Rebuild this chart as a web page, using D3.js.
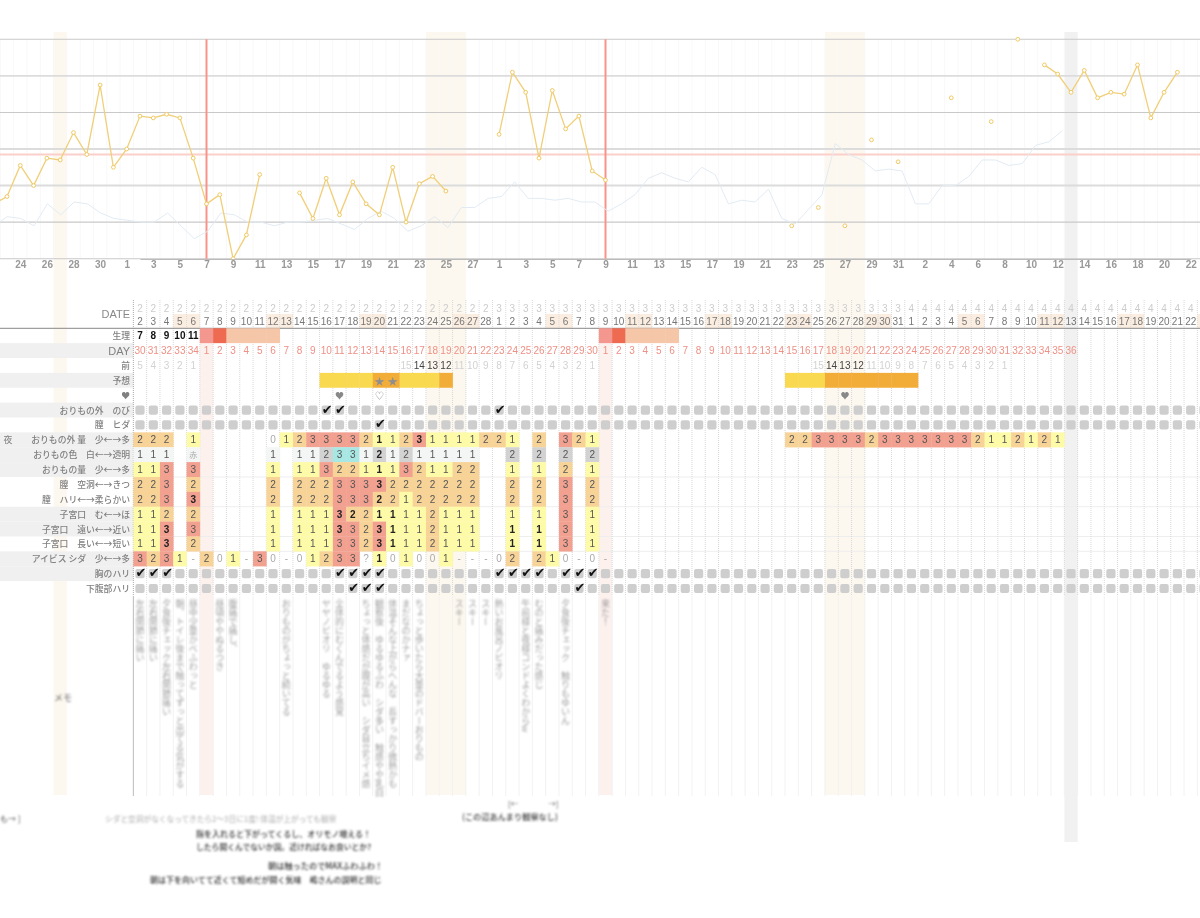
<!DOCTYPE html>
<html>
<head>
<meta charset="utf-8">
<script src="https://cdn.jsdelivr.net/npm/d3@7"></script>
<style>
  body { margin: 0; background: #fff; }
  svg { display: block; filter: blur(0.3px); }
  text { font-family: "Liberation Sans", sans-serif; }
  .jp { font-family: "Noto Sans CJK JP", sans-serif; }
</style>
</head>
<body>
<svg id="chart" width="1200" height="918"></svg>
<script>
// day labels, 1/22 to 4/23
const chartMonths = [...'1111111111', ...'2222222222222222222222222222', ...'3333333333333333333333333333333', ...'44444444444444444444444'];
const chartDays = [22,23,24,25,26,27,28,29,30,31,
  1,2,3,4,5,6,7,8,9,10,11,12,13,14,15,16,17,18,19,20,21,22,23,24,25,26,27,28,
  1,2,3,4,5,6,7,8,9,10,11,12,13,14,15,16,17,18,19,20,21,22,23,24,25,26,27,28,29,30,31,
  1,2,3,4,5,6,7,8,9,10,11,12,13,14,15,16,17,18,19,20,21,22,23];
const firstIdx = -11;   // chartDays[0] sits 11 columns left of column 0, which is 2/2

// body temperature from 1/22, null = not measured
const temps = [36.10,36.14,36.31,36.20,36.35,36.34,36.49,36.37,36.75,36.30,36.40,
  36.58,36.57,36.59,36.57,36.35,36.10,36.15,35.80,35.93,36.26,null,null,
  36.16,36.02,36.24,36.04,36.22,36.10,36.04,36.30,36.00,36.21,36.25,36.17,null,null,null,
  36.48,36.82,36.71,36.35,36.72,36.51,36.58,36.28,36.23,
  null,null,null,null,null,null,null,null,null,null,null,null,null,
  35.98,null,36.08,null,35.98,null,36.45,null,36.33,null,null,null,36.68,null,null,36.55,null,37.00,null,
  36.86,36.81,36.71,36.83,36.68,36.71,36.70,36.86,36.57,36.71,36.82,null,null];

// pale comparison line, from 1/22 to 4/12
const refTemps = [35.98,36.03,36.02,35.98,36.10,36.04,36.11,36.10,36.05,36.02,36.01,
  36.00,36.00,36.05,35.98,35.91,35.95,36.05,36.04,36.00,36.00,35.98,36.00,36.00,36.01,36.02,35.99,35.96,36.02,36.06,36.02,35.95,
  35.98,36.03,35.97,36.08,36.08,36.13,36.14,36.22,36.13,36.13,36.12,36.13,36.11,36.11,36.06,36.10,36.15,36.24,36.27,36.24,36.22,36.30,36.26,36.10,36.12,36.11,36.18,36.02,35.99,
  36.07,36.15,36.43,36.37,36.34,36.28,36.29,36.28,36.10,36.10,36.20,36.20,36.25,36.34,36.34,36.31,36.32,36.42,36.44,36.50];

const tempGrid = [35.8,36.0,36.2,36.4,36.6,36.8,37.0];
const wideGrid = [36.2,36.4,36.8];
const coverLine = 36.37;

// table columns start at 2/2
const periodDays = [5,35];
const fertileDays = [[-6,-6],[22,24],[52,54]];
const todayCol = 70;
const weekendCols = [3,4,10,11,17,18,24,25,31,32,37,38,43,44,49,50,55,56,62,63,68,69,74,75,80];

const cycleCount = [7,8,9,10,11];
const flowCols = [[5,2],[6,3],[7,1],[8,1],[9,1],[10,1],[35,2],[36,3],[37,1],[38,1],[39,1],[40,1]];
const dayCounts = [30,31,32,33,34].concat(
  [1,2,3,4,5,6,7,8,9,10,11,12,13,14,15,16,17,18,19,20,21,22,23,24,25,26,27,28,29,30],
  [1,2,3,4,5,6,7,8,9,10,11,12,13,14,15,16,17,18,19,20,21,22,23,24,25,26,27,28,29,30,31,32,33,34,35,36]);
const beforeCounts = [[0,[5,4,3,2,1]],[20,[15,14,13,12,11,10,9,8,7,6,5,4,3,2,1]],[51,[15,14,13,12,11,10,9,8,7,6,5,4,3,2,1]]];
const beforeDark = [21,22,23,52,53,54];
const forecastLow = [14,15,16,17,20,21,22,49,50,51];
const forecastHigh = [18,19,23,52,53,54,55,56,57,58];
const starCols = [18,19];
const heartFull = [15,53];
const heartOpen = [18];

const rowLabels = ["生理","DAY","前","予想","♥","おりもの外　のび","膣　ヒダ","おりもの外 量　少←→多","おりもの色　白←→透明",
  "おりもの量　少←→多","膣　空洞←→きつ","膣　ハリ←→柔らかい","子宮口　む←→ほ","子宮口　遠い←→近い","子宮口　長い←→短い",
  "アイビス シダ　少←→多","胸のハリ","下腹部ハリ"];
const greyRows = [1,3,5,7,8,9,12,13,15,16];
const ruleRows = [10,12,14,15];

// one character per column, space = no entry
const nightAmount = "222 1     0123333211231111221 2 321              223333233333332112121";
const colorLevel  = "111 赤     1 11233121211111  2 2 2 2";
const amountLevel = "113 3     1 11322111321122  1 1 2 1";
const hollowLevel = "223 2     2 22233332222222  2 2 3 2";
const firmLevel   = "223 3     2 22233322122222  2 2 3 2";
const openLevel   = "112 2     1 11132211112111  1 1 3 1";
const nearLevel   = "113 3     1 11133231112111  1 1 3 1";
const shortLevel  = "113 2     1 11133231112111  1 1 3 1";
const ibisLevel   = "3231-201-30-01233?101001---02 210-0-";
const levelRows = [[7,nightAmount,[18,21]],[8,colorLevel,[18]],[9,amountLevel,[18]],[10,hollowLevel,[18]],[11,firmLevel,[4,18]],
  [12,openLevel,[15,16,18,19]],[13,nearLevel,[2,15,18,19,28,30]],[14,shortLevel,[2,18,19,28,30]],[15,ibisLevel,[18]]];

const stretchChecks = [14,15,27];
const labiaChecks = [18];
const breastChecks = [0,1,2,15,16,17,18,27,28,29,30,32,33,34];
const bellyChecks = [16,17,18,33];
const checkRows = [[5,stretchChecks],[6,labiaChecks],[16,breastChecks],[17,bellyChecks]];

const memos = [[0,"左右関節に痛い"],[1,"左右関節に痛い"],[2,"夕食後チェック左右関節痛い"],[3,"朝、トイレ後まで触ってずっと出てる気がする"],
  [4,"昼中少量かべふわっと"],[6,"昼頃ややぬるつき"],[7,"腹痛で痛し、"],[11,"おりものがちょっと続いてる"],[14,"ヤヤノビオリ　ゆるゆる"],
  [15,"全体的にむくんでるよう感覚"],[17,"ちょっと体感だが膣が高い　シダ目立ちイメ感"],[18,"観察後　ゆるゆるふわ　シダ多い　触感やや乳白"],
  [19,"体温そんな上がらへんな　長すっかり微熱かも"],[20,"まだなのかナァ"],[21,"ちょっと歩いたら大量のドバーおりもの"],
  [24,"スキー"],[25,"スキー"],[26,"スキー"],[27,"熱いお風呂ノビオリ"],[29,"午前様と夜様コンドよくわからw"],[30,"むのと痛みだった感じ"],
  [32,"夕食後チェック　触りもゆいん"],[35,"来た！"]];

const notes = [
  ["も→ ]", 0, 822, "#777", 8],
  ["シダと空洞がなくなってきたら2〜3日に1度! 体温が上がっても観察", 105, 822, "#bbb", 7.7],
  ["指を入れると下がってくるし、オリモノ増える！", 196, 837, "#333", 8],
  ["したら開くんでないか説。近ければなお良いとか?", 196, 850, "#333", 7.8],
  ["朝は触ったのでMAXふわふわ！", 268, 869, "#333", 8.2],
  ["朝は下を向いてて近くて短めだが開く気味　嶋さんの説明と同じ", 150, 883, "#333", 8],
  ["[←　　　　→]", 508, 807, "#777", 7.5],
  ["(この辺あんまり観察なし)", 462, 820, "#444", 8.2],
  ["メモ", 54, 701, "#888", 9]
];

// ---- scales
const svg = d3.select("#chart");
const colW = 13.3;
const x = d3.scaleLinear().domain([0, 79]).range([140, 1190.7]);
const xRef = d3.scaleLinear().domain([-10, 69]).range([7.3, 1062.3]);
const y = d3.scaleLinear().domain([35.8, 37.0]).range([258.7, 39.3]);
const rowY = d3.scaleLinear().domain([0, 17]).range([335.7, 588.5]);
const rowH = 14.87;
const allCols = d3.range(0, 81);
const labelCols = d3.range(0, 80);
const flowColor = {1: "#f5c6a8", 2: "#f4978e", 3: "#ee6a50"};
const levelColor = {"1": "#fefba8", "2": "#f7d397", "3": "#f2a090"};
const tintColor = {"1": "#f4f6f6", "2": "#d2d2d2", "3": "#a8e8e4", "赤": "#f4f6f6"};
const idxOf = i => i + firstIdx;

// ---- bands behind everything
const band = (from, to, y0, y1, fill) => svg.append("rect")
  .attr("x", x(from) - colW / 2).attr("width", (to - from + 1) * colW)
  .attr("y", y0).attr("height", y1 - y0).attr("fill", fill);

fertileDays.forEach(d => band(d[0], d[1], 32, 795, "#fdf8ef"));
band(todayCol, todayCol, 32, 842, "#f1f1f1");
periodDays.forEach(d => band(d, d, 328, 795, "#fdf1ee"));

// ---- temperature chart
svg.append("g").selectAll("line")
  .data(d3.range(-10, 81))
  .join("line")
  .attr("x1", d => x(d) - colW / 2).attr("x2", d => x(d) - colW / 2)
  .attr("y1", 39).attr("y2", 259)
  .attr("stroke", "#f8f8f8").attr("stroke-width", 1);

svg.append("g").selectAll("line")
  .data(tempGrid)
  .join("line")
  .attr("x1", 0).attr("x2", 1200)
  .attr("y1", d => y(d)).attr("y2", d => y(d))
  .attr("stroke", d => wideGrid.includes(d) ? "#dcdcdc" : "#c9c9c9")
  .attr("stroke-width", d => wideGrid.includes(d) ? 1.9 : 1.1);

svg.append("line")
  .attr("x1", 0).attr("x2", 1200)
  .attr("y1", y(coverLine)).attr("y2", y(coverLine))
  .attr("stroke", "#fbcfca").attr("stroke-width", 1.8);

periodDays.forEach(d => svg.append("line")
  .attr("x1", x(d)).attr("x2", x(d)).attr("y1", 39.3).attr("y2", 258.7)
  .attr("stroke", "#f8938a").attr("stroke-width", 2));

svg.append("path")
  .attr("fill", "none").attr("stroke", "#e2ebf3").attr("stroke-width", 1)
  .attr("d", d3.line().x((d, i) => xRef(idxOf(i))).y(d => y(d))(refTemps));

svg.append("path")
  .attr("fill", "none").attr("stroke", "#f0cf78").attr("stroke-width", 1.3)
  .attr("d", d3.line().defined(d => d != null).x((d, i) => x(idxOf(i))).y(d => y(d))(temps));

svg.append("g").selectAll("circle")
  .data(temps.map((t, i) => [i, t]).filter(d => d[1] != null))
  .join("circle")
  .attr("cx", d => x(idxOf(d[0]))).attr("cy", d => y(d[1])).attr("r", 1.9)
  .attr("fill", "#fff").attr("stroke", "#efc964").attr("stroke-width", 1);

const axis = svg.append("g")
  .attr("transform", "translate(0,259)")
  .call(d3.axisBottom(x)
    .tickValues(d3.range(-9, 80, 2))
    .tickSize(0).tickPadding(2)
    .tickFormat(d => chartDays[d - firstIdx]));
axis.select(".domain").attr("stroke", "#bbb").attr("stroke-width", 1);
axis.selectAll("text").attr("fill", "#999").attr("font-size", 10).attr("font-weight", "bold")
  .style("font-family", '"Liberation Sans", sans-serif');

// ---- table backgrounds
svg.append("g").selectAll("rect")
  .data(greyRows)
  .join("rect")
  .attr("x", 0).attr("width", 133.5)
  .attr("y", d => rowY(d) - rowH / 2).attr("height", rowH)
  .attr("fill", "#f0f0f0");

svg.append("g").selectAll("line")
  .data(ruleRows)
  .join("line")
  .attr("x1", 133).attr("x2", 1200)
  .attr("y1", d => rowY(d) - rowH / 2).attr("y2", d => rowY(d) - rowH / 2)
  .attr("stroke", "#eee").attr("stroke-width", 1);

// header
svg.append("g").selectAll("rect")
  .data(weekendCols)
  .join("rect")
  .attr("x", d => x(d) - colW / 2).attr("width", colW)
  .attr("y", 314).attr("height", 14)
  .attr("fill", "#fbeee0");

// dotted column lines, solid and fainter under the table
const colLines = svg.append("g");
colLines.selectAll("line.dot").data(allCols).join("line").attr("class", "dot")
  .attr("x1", d => x(d) - colW / 2).attr("x2", d => x(d) - colW / 2)
  .attr("y1", 300).attr("y2", 596)
  .attr("stroke", d => d == 0 ? "#aaa" : "#d8d8d8").attr("stroke-width", 1).attr("stroke-dasharray", "1,1");
colLines.selectAll("line.memo").data(allCols).join("line").attr("class", "memo")
  .attr("x1", d => x(d) - colW / 2).attr("x2", d => x(d) - colW / 2)
  .attr("y1", 596).attr("y2", 796)
  .attr("stroke", d => d == 0 ? "#bbb" : "#f2f2f2").attr("stroke-width", 1);

svg.append("line")
  .attr("x1", 0).attr("x2", 1200).attr("y1", 328.3).attr("y2", 328.3)
  .attr("stroke", "#888").attr("stroke-width", 1);

const tableDays = chartDays.slice(-firstIdx);
const tableMonths = chartMonths.slice(-firstIdx);
const numText = (sel, size) => sel.attr("text-anchor", "middle").attr("dominant-baseline", "central").attr("font-size", size);

svg.append("g").selectAll("text").data(labelCols).join("text")
  .attr("x", d => x(d)).attr("y", 308)
  .call(numText, 10).attr("fill", "#ccc")
  .text(d => tableMonths[d]);
svg.append("g").selectAll("text").data(labelCols).join("text")
  .attr("x", d => x(d)).attr("y", 321)
  .call(numText, 10).attr("fill", "#777")
  .text(d => tableDays[d]);

svg.append("text").attr("x", 130).attr("y", 314).attr("text-anchor", "end")
  .attr("dominant-baseline", "central").attr("font-size", 11).attr("fill", "#888").text("DATE");

// row labels
svg.append("g").selectAll("text").data(rowLabels).join("text")
  .attr("class", d => d == "DAY" ? null : "jp")
  .attr("x", 130).attr("y", (d, i) => rowY(i))
  .attr("text-anchor", "end").attr("dominant-baseline", "central")
  .attr("font-size", (d, i) => i == 1 ? 11 : 8.8).attr("font-weight", 500).attr("fill", "#808080")
  .text(d => d);
svg.append("text").attr("class", "jp").attr("x", 8).attr("y", rowY(7)).attr("text-anchor", "middle")
  .attr("dominant-baseline", "central").attr("font-size", 8.8).attr("fill", "#808080").text("夜");

// cycle row
svg.append("g").selectAll("rect").data(flowCols).join("rect")
  .attr("x", d => x(d[0]) - colW / 2).attr("width", colW + 0.3)
  .attr("y", rowY(0) - rowH / 2).attr("height", rowH)
  .attr("fill", d => flowColor[d[1]]);
svg.append("g").selectAll("text").data(cycleCount).join("text")
  .attr("x", (d, i) => x(i)).attr("y", rowY(0))
  .call(numText, 10).attr("font-weight", "bold").attr("fill", "#111")
  .text(d => d);

// DAY row
svg.append("g").selectAll("text").data(dayCounts).join("text")
  .attr("x", (d, i) => x(i)).attr("y", rowY(1))
  .call(numText, 10).attr("fill", "#ee9085")
  .text(d => d);

// days before
beforeCounts.forEach(run => {
  svg.append("g").selectAll("text").data(run[1]).join("text")
    .attr("x", (d, i) => x(run[0] + i)).attr("y", rowY(2))
    .call(numText, 10)
    .attr("fill", (d, i) => beforeDark.includes(run[0] + i) ? "#444" : "#d2d2d2")
    .text(d => d);
});

// forecast
svg.append("g").selectAll("rect").data(forecastLow).join("rect")
  .attr("x", d => x(d) - colW / 2).attr("width", colW + 0.3)
  .attr("y", rowY(3) - rowH / 2).attr("height", rowH).attr("fill", "#f9d94f");
svg.append("g").selectAll("rect").data(forecastHigh).join("rect")
  .attr("x", d => x(d) - colW / 2).attr("width", colW + 0.3)
  .attr("y", rowY(3) - rowH / 2).attr("height", rowH).attr("fill", "#f2ad38");
svg.append("g").selectAll("text").data(starCols).join("text")
  .attr("class", "jp").attr("x", d => x(d)).attr("y", rowY(3))
  .call(numText, 10).attr("fill", "#8e8e8e").text("★");

// hearts
svg.append("g").selectAll("text").data(heartFull.map(d => [d, "♥"]).concat(heartOpen.map(d => [d, "♡"]))).join("text")
  .attr("class", "jp").attr("x", d => x(d[0])).attr("y", rowY(4))
  .call(numText, 9).attr("fill", "#888").text(d => d[1]);

// level cells
levelRows.forEach(r => {
  const cells = Array.from(r[1]).map((v, i) => [i, v]).filter(d => d[1] != " ");
  const fillOf = r[0] == 8 ? tintColor : levelColor;
  const g = svg.append("g");
  g.selectAll("rect").data(cells.filter(d => fillOf[d[1]])).join("rect")
    .attr("x", d => x(d[0]) - colW / 2).attr("width", colW + 0.3)
    .attr("y", rowY(r[0]) - rowH / 2).attr("height", rowH + 0.2)
    .attr("fill", d => fillOf[d[1]]);
  g.selectAll("text").data(cells).join("text")
    .attr("class", d => d[1] == "赤" ? "jp" : null)
    .attr("x", d => x(d[0])).attr("y", rowY(r[0]))
    .call(numText, d => d[1] == "赤" ? 8 : 10)
    .attr("font-weight", d => r[2].includes(d[0]) ? "bold" : "normal")
    .attr("fill", d => r[2].includes(d[0]) ? "#222" : ("123".includes(d[1]) ? "#555" : "#aaa"))
    .text(d => d[1]);
});

// check boxes
checkRows.forEach(r => {
  const g = svg.append("g");
  g.selectAll("rect").data(allCols).join("rect")
    .attr("x", d => x(d) - 4.6).attr("width", 9.2)
    .attr("y", rowY(r[0]) - 4.6).attr("height", 9.2).attr("rx", 2)
    .attr("fill", "#cecece");
  g.selectAll("text").data(r[1]).join("text")
    .attr("x", d => x(d) + 1).attr("y", rowY(r[0]) - 1)
    .attr("text-anchor", "middle").attr("dominant-baseline", "central")
    .attr("font-size", 13).attr("fill", "#111")
    .style("font-family", '"DejaVu Sans", sans-serif')
    .text("✔");
});

// memo columns, blurred like the reference
svg.append("defs").append("filter").attr("id", "soft")
  .attr("x", "-5%").attr("y", "-5%").attr("width", "110%").attr("height", "110%")
  .append("feGaussianBlur").attr("stdDeviation", 1.1);

const memoG = svg.append("g").attr("filter", "url(#soft)");
memoG.selectAll("text").data(memos).join("text")
  .attr("class", "jp")
  .attr("transform", d => `translate(${x(d[0])},599)`)
  .style("writing-mode", "vertical-rl")
  .attr("font-size", 9).attr("fill", "#a0a0a0")
  .text(d => d[1]);
memoG.selectAll("text.note").data(notes).join("text")
  .attr("class", "jp note")
  .attr("x", d => d[1]).attr("y", d => d[2])
  .attr("fill", d => d[3]).attr("font-size", d => d[4]).attr("font-weight", 500)
  .text(d => d[0]);
</script>
</body>
</html>
